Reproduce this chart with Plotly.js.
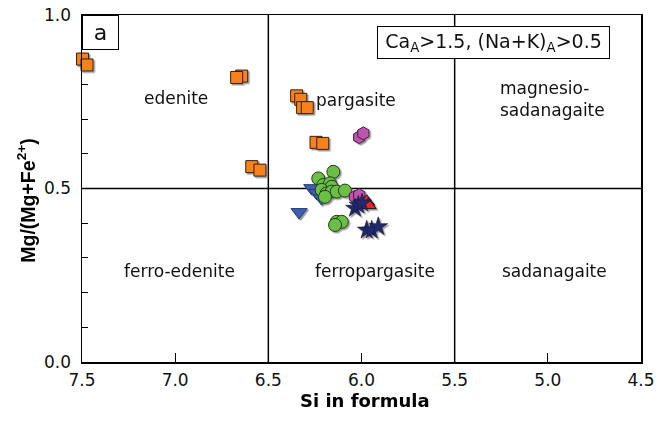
<!DOCTYPE html>
<html>
<head>
<meta charset="utf-8">
<script src="https://cdn.plot.ly/plotly-3.0.1.min.js"></script>
<style>
  html, body { margin: 0; padding: 0; background: #fff; }
  #chart { width: 659px; height: 423px; }
  /* soft drop shadow behind the sample symbols */
  #chart .scatterlayer { filter: url(#symShadow); }
</style>
</head>
<body>
<svg width="0" height="0" style="position:absolute">
  <defs>
    <filter id="symShadow" x="-20%" y="-20%" width="140%" height="140%">
      <feDropShadow dx="1.5" dy="1.5" stdDeviation="0.4" flood-color="#777" flood-opacity="0.75"/>
    </filter>
  </defs>
</svg>
<div id="chart"></div>
<script>
// Amphibole compositions: Si (apfu) vs Mg/(Mg+Fe2+)
const squareSi = [7.497, 7.473, 6.643, 6.670, 6.589, 6.545, 6.348, 6.326, 6.316, 6.291, 6.244, 6.208];
const squareMg = [0.873, 0.856, 0.824, 0.820, 0.563, 0.553, 0.767, 0.757, 0.733, 0.733, 0.633, 0.630];

const triDownSi = [6.335, 6.267, 6.240, 6.214];
const triDownMg = [0.432, 0.501, 0.487, 0.472];

const circleSi = [6.151, 6.232, 6.205, 6.169, 6.160, 6.214, 6.187, 6.160, 6.133, 6.089, 6.196, 6.133, 6.106, 6.142];
const circleMg = [0.548, 0.529, 0.510, 0.515, 0.505, 0.496, 0.486, 0.491, 0.491, 0.494, 0.476, 0.404, 0.404, 0.395];

const hexSi = [6.012, 5.990, 6.035, 6.012];
const hexMg = [0.648, 0.659, 0.476, 0.481];

const triUpSi = [5.972, 5.964];
const triUpMg = [0.462, 0.452];

const starSi = [6.035, 6.017, 5.997, 5.972, 5.945, 5.910];
const starMg = [0.443, 0.452, 0.458, 0.380, 0.380, 0.390];

// Classification field boundaries and names
const siBounds = [6.5, 5.5];
const mgBound = 0.5;
const fieldNames = ['edenite', 'pargasite', 'ferro-edenite', 'ferropargasite', 'sadanagaite'];
const fieldSi = [6.996, 6.03, 6.975, 5.93, 4.965];
const fieldMg = [0.761, 0.756, 0.262, 0.262, 0.262];
const magSadName = 'magnesio-<br>sadanagaite';
const magSadSi = 5.267;
const magSadMg = 0.759;

const xTicks = [7.5, 7.0, 6.5, 6.0, 5.5, 5.0, 4.5];
const yTicks = [0, 0.5, 1.0];
const yTickText = ['0.0', '0.5', '1.0'];

const FONT = 'DejaVu Sans, Verdana, sans-serif';
const FONT_Y = 'Liberation Sans, Arial, Helvetica, sans-serif';

function group(x, y, symbol, size, fill, edge, edgeWidth) {
  return {
    type: 'scatter', mode: 'markers', x: x, y: y, cliponaxis: false,
    hoverinfo: 'skip',
    marker: { symbol: symbol, size: size, color: fill, line: { color: edge, width: edgeWidth } }
  };
}

const traces = [
  group(squareSi, squareMg, 'square', 12, '#F7821F', '#3a1e05', 1),
  group(triDownSi, triDownMg, 'triangle-down', 14, '#3D5FAD', '#223a78', 1),
  group(circleSi, circleMg, 'circle', 13, '#6CBF45', '#1f3b12', 1),
  group(hexSi, hexMg, 'hexagon', 13, '#C052AE', '#4a1a40', 1),
  group(triUpSi, triUpMg, 'triangle-up', 14, '#EE2024', '#111111', 1),
  group(starSi, starMg, 'star', 14, '#232B6E', '#0d1030', 0.6)
];

const shapes = siBounds.map(s => ({
  type: 'line', xref: 'x', yref: 'paper', x0: s, x1: s, y0: 0, y1: 1,
  line: { color: '#000', width: 1.5 }, layer: 'below'
}));
shapes.push({
  type: 'line', xref: 'paper', yref: 'y', x0: 0, x1: 1, y0: mgBound, y1: mgBound,
  line: { color: '#000', width: 1.5 }, layer: 'below'
});

const annotations = fieldNames.map((t, i) => ({
  x: fieldSi[i], y: fieldMg[i], xref: 'x', yref: 'y', text: t, showarrow: false,
  font: { family: FONT, size: 17, color: '#111' }, align: 'center'
}));
annotations.push({
  x: magSadSi, y: magSadMg, xref: 'x', yref: 'y', xanchor: 'left',
  text: magSadName, showarrow: false, align: 'left',
  font: { family: FONT, size: 17, color: '#111' }
});
annotations.push({
  xref: 'paper', yref: 'paper', x: 0, y: 1, xanchor: 'left', yanchor: 'top',
  text: 'a', showarrow: false, width: 35, height: 33, borderpad: 0,
  bordercolor: '#000', borderwidth: 1, bgcolor: '#fff',
  font: { family: FONT, size: 22, color: '#111' }
});
annotations.push({
  xref: 'paper', yref: 'paper', x: 0.9445, y: 0.968, xanchor: 'right', yanchor: 'top',
  text: 'Ca<sub>A</sub>>1.5, (Na+K)<sub>A</sub>>0.5', showarrow: false,
  width: 231, height: 31, borderpad: 0,
  bordercolor: '#000', borderwidth: 1, bgcolor: '#fff',
  font: { family: FONT, size: 19, color: '#111' }
});
// axis titles
annotations.push({
  xref: 'paper', yref: 'paper', x: -0.1, y: 0.465, xanchor: 'center', yanchor: 'middle',
  textangle: -90, showarrow: false,
  text: '<b>Mg/(Mg+Fe<sup>2+</sup>)</b>',
  font: { family: FONT_Y, size: 19.5, color: '#000' }
});
annotations.push({
  xref: 'paper', yref: 'paper', x: 0.506, y: -0.11, xanchor: 'center', yanchor: 'middle',
  showarrow: false, text: '<b>Si in formula</b>',
  font: { family: FONT, size: 18, color: '#000' }
});

const layout = {
  width: 659, height: 423,
  margin: { l: 82, r: 18, t: 15, b: 61 },
  paper_bgcolor: '#fff', plot_bgcolor: '#fff',
  showlegend: false,
  font: { family: FONT, size: 17, color: '#111' },
  xaxis: {
    range: [7.5, 4.5], tickvals: xTicks, tickformat: '.1f',
    ticks: 'inside', ticklen: 9, tickwidth: 1.2, tickcolor: '#000',
    ticklabelstandoff: 2,
    showline: true, linecolor: '#000', linewidth: 1.5, mirror: true,
    showgrid: false, zeroline: false,
    tickfont: { family: FONT, size: 17, color: '#111' }
  },
  yaxis: {
    range: [0, 1], tickvals: yTicks, ticktext: yTickText,
    ticks: 'inside', ticklen: 6, tickwidth: 1.2, tickcolor: '#000',
    ticklabelstandoff: 6,
    minor: { dtick: 0.1, ticks: 'inside', ticklen: 6, tickwidth: 1.2, tickcolor: '#000', showgrid: false },
    showline: true, linecolor: '#000', linewidth: 1.5, mirror: true,
    showgrid: false, zeroline: false,
    tickfont: { family: FONT, size: 17, color: '#111' }
  },
  shapes: shapes,
  annotations: annotations
};

Plotly.newPlot('chart', traces, layout, { displayModeBar: false, staticPlot: true });
</script>
</body>
</html>
